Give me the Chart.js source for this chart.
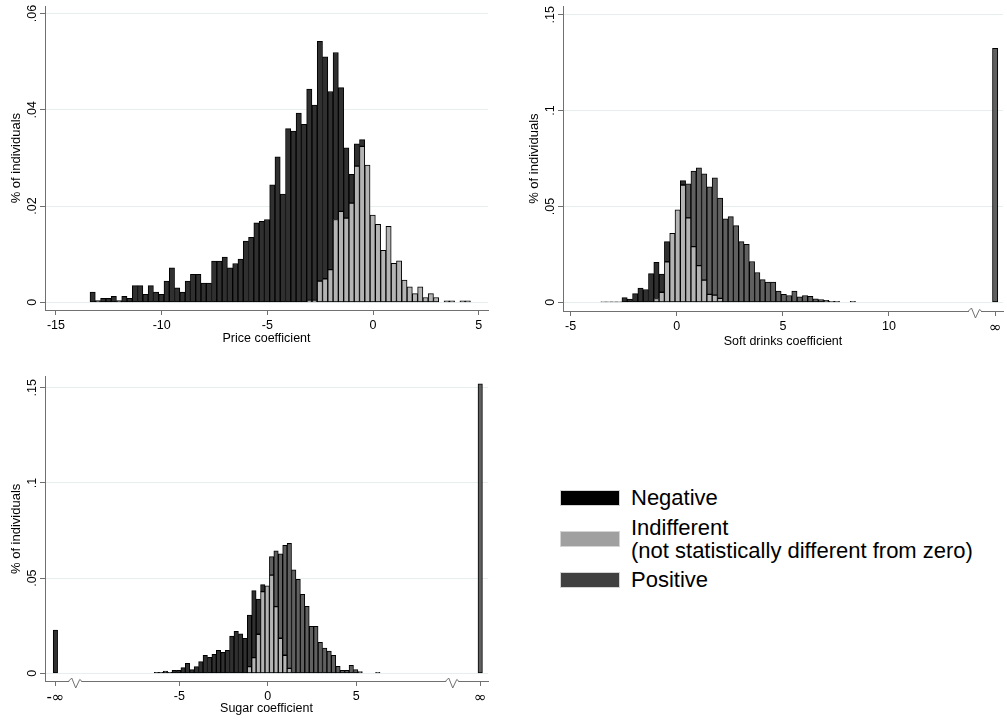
<!DOCTYPE html>
<html>
<head>
<meta charset="utf-8">
<script src="https://cdn.jsdelivr.net/npm/chart.js@4.4.0/dist/chart.umd.min.js"></script>
<style>
html,body{margin:0;padding:0;background:#fff;width:1007px;height:720px;overflow:hidden;font-family:"Liberation Sans",Arial,sans-serif;}
canvas{position:absolute;}
#c1{left:0;top:0;}
#c2{left:505px;top:0;}
#c3{left:0;top:370px;}
.lg-box{position:absolute;left:560px;width:60px;height:16px;box-sizing:border-box;border:1px solid #d4d4d4;}
.lg-txt{position:absolute;left:631px;font-size:22px;line-height:22px;color:#000;white-space:nowrap;}
</style>
</head>
<body>
<canvas id="c1" width="500" height="350"></canvas>
<canvas id="c2" width="502" height="350"></canvas>
<canvas id="c3" width="500" height="350"></canvas>

<div class="lg-box" style="top:490px;background:#000;"></div>
<div class="lg-txt" style="top:487px;">Negative</div>
<div class="lg-box" style="top:531px;background:#a0a0a0;"></div>
<div class="lg-txt" style="top:517px;">Indifferent</div>
<div class="lg-txt" style="top:540px;">(not statistically different from zero)</div>
<div class="lg-box" style="top:572px;background:#404040;"></div>
<div class="lg-txt" style="top:569px;">Positive</div>

<script>
// ---------- DATA ----------
const BIN_WIDTH = 0.25;

// Price coefficient histogram (bins start at -13.39)
const priceBinStart = -13.39;
const priceNegative = [
  0.00214,0.00034,0.00083,0.00083,0.00124,0.00034,0.00124,0.00083,0.00345,0.00345,
  0.00166,0.00345,0.00214,0.00166,0.00441,0.00717,0.00303,0.00214,0.00441,0.0058,
  0.0058,0.004,0.004,0.00855,0.00855,0.00938,0.00717,0.00807,0.00897,0.0127,
  0.0135,0.0165,0.0168,0.0172,0.0244,0.0302,0.0225,0.0361,0.0356,0.0393,
  0.037,0.0439,0.0406,0.0498,0.0461,0.037,0.0347,0.0257,0.0146,0.006,
  0.0046,0.0014,0,0,0,0,0,0,0,0,
  0,0,0,0,0,0,0,0,0,0,
  0,0
];
const priceIndifferent = [
  0,0,0,0,0,0,0,0,0,0,
  0,0,0,0,0,0,0,0,0,0,
  0,0,0,0,0,0,0,0,0,0,
  0,0,0,0,0,0,0,0,0,0,
  0,0.0004,0.0004,0.0044,0.0049,0.0068,0.0172,0.0189,0.0175,0.0206,
  0.0283,0.0324,0.0285,0.0181,0.0162,0.0108,0.0158,0.0081,0.0086,0.0046,
  0.0032,0.0018,0.0032,0.001,0.0018,0.001,0,0,0,0,
  0,0
];
const pricePositive = [
  0,0,0,0,0,0,0,0,0,0,
  0,0,0,0,0,0,0,0,0,0,
  0,0,0,0,0,0,0,0,0,0,
  0,0,0,0,0,0,0,0,0,0,
  0,0,0,0,0,0,0,0,0,0,
  0,0,0,0,0,0,0,0,0,0,
  0,0,0,0,0,0,0,0.0003,0.0003,0,
  0.0003,0.0003
];
const priceXTicks = [-15,-10,-5,0,5];
const priceXLabels = ['-15','-10','-5','0','5'];
const priceYTicks = [0,0.02,0.04,0.06];
const priceYLabels = ['0','.02','.04','.06'];

// Soft drinks coefficient histogram (bins start at -3.58), infinity bar at x=15
const softBinStart = -3.58;
const softNegative = [
  0.0002,0.0002,0.0002,0.0002,0.0025,0.0017,0.0046,0.0074,0.0067,0.015,
  0.0189,0.0094,0.0105,0,0,0.0023,0,0,0,0,
  0,0,0,0,0,0,0,0,0,0,
  0,0,0,0,0,0,0,0,0,0,
  0,0,0,0,0,0,0,0
];
const softIndifferent = [
  0,0,0,0,0,0,0,0,0,0,
  0.002,0.0053,0.0212,0.036,0.0483,0.0612,0.0441,0.0291,0.0192,0.0116,
  0.0042,0.0038,0.0021,0,0,0,0,0,0,0,
  0,0,0,0,0,0,0,0,0,0,
  0,0,0,0,0,0,0,0
];
const softPositive = [
  0,0,0,0,0,0,0,0,0,0,
  0,0,0,0,0,0,0.0177,0.0394,0.0509,0.0554,
  0.056,0.0611,0.0523,0.0436,0.0447,0.04,0.0317,0.0303,0.0213,0.0156,
  0.0119,0.0106,0.0106,0.0059,0.0042,0.0036,0.0059,0.0029,0.0036,0.0031,
  0.0019,0.0014,0.001,0.0005,0.0005,0,0,0.0005
];
const softInfinityX = 15;
const softInfinityPositive = 0.1325;
const softBreakX = 14.05;
const softXTicks = [-5,0,5,10,15];
const softXLabels = ['-5','0','5','10','\u221E'];
const softYTicks = [0,0.05,0.1,0.15];
const softYLabels = ['0','.05','.1','.15'];

// Sugar coefficient histogram (bins start at -6.41), -inf bar at x=-12, inf bar at x=12
const sugarBinStart = -6.41;
const sugarNegative = [
  0.0005,0.0005,0.0012,0.0005,0.0016,0.0016,0.003,0.0053,0.0019,0.0035,
  0.0061,0.0095,0.0084,0.01,0.0121,0.011,0.0121,0.0196,0.0221,0.0207,
  0.0184,0.0271,0.0352,0.0185,0.0037,0,0,0,0,0,
  0,0,0,0,0,0,0,0,0,0,
  0,0,0,0,0,0,0,0,0,0,
  0
];
const sugarIndifferent = [
  0,0,0,0,0,0,0,0,0,0,
  0,0,0,0,0,0,0,0,0,0,
  0,0.0035,0.0082,0.0205,0.0429,0.046,0.0516,0.035,0.0184,0.0095,
  0.0026,0,0,0,0,0,0,0,0,0,
  0,0,0,0,0,0,0,0,0,0,
  0
];
const sugarPositive = [
  0,0,0,0,0,0,0,0,0,0,
  0,0,0,0,0,0,0,0,0,0,
  0,0,0,0,0,0,0.0097,0.0294,0.0443,0.0577,
  0.0657,0.0543,0.0494,0.0415,0.0352,0.0247,0.0247,0.0163,0.0133,0.0117,
  0.0095,0.0037,0.0016,0.0016,0.0042,0.0019,0.0009,0,0,0,
  0.0005
];
const sugarMinusInfX = -12;
const sugarMinusInfNegative = 0.0227;
const sugarInfX = 12;
const sugarInfPositive = 0.152;
const sugarBreaks = [-10.88, 10.42];
const sugarXTicks = [-12,-5,0,5,12];
const sugarXLabels = ['-\u221E','-5','0','5','\u221E'];
const sugarYTicks = [0,0.05,0.1,0.15];
const sugarYLabels = ['0','.05','.1','.15'];

// ---------- STYLE ----------
const COLOR_NEG = '#303030';
const COLOR_IND = '#b4b4b4';
const COLOR_POS = '#606060';
const AXIS = '#707070';
const GRID = '#e6eeee';
const FONT = '"Liberation Sans", Arial, sans-serif';

Chart.defaults.font.family = FONT;
Chart.defaults.color = '#000';

function binCenters(start, n) {
  const xs = [];
  for (let i = 0; i < n; i++) xs.push(Math.round((start + (i + 0.5) * BIN_WIDTH) * 10000) / 10000);
  return xs;
}
function toPoints(xs, ys, extra) {
  const pts = [];
  ys.forEach((v, i) => { if (v > 0) pts.push({x: xs[i], y: v}); });
  (extra || []).forEach(p => pts.push(p));
  return pts;
}

const breakPlugin = {
  id: 'axisBreaks',
  afterDraw(chart, args, opts) {
    const vals = (opts && opts.values) || [];
    const xs = chart.scales.x;
    const ctx = chart.ctx;
    const y0 = chart.chartArea.bottom;
    ctx.save();
    vals.forEach(b => {
      const px = xs.getPixelForValue(b);
      ctx.fillStyle = '#fff';
      ctx.fillRect(px - 6, y0 - 2, 12, 4);
      ctx.strokeStyle = AXIS;
      ctx.lineWidth = 1;
      ctx.beginPath();
      ctx.moveTo(px - 6.5, y0);
      ctx.lineTo(px - 3.5, y0 - 3);
      ctx.lineTo(px + 0.5, y0 + 7);
      ctx.lineTo(px + 4.5, y0 - 1.5);
      ctx.lineTo(px + 6.5, y0);
      ctx.stroke();
    });
    ctx.restore();
  }
};

function makeChart(id, cfg) {
  const common = {borderColor: '#000', borderWidth: 1, borderSkipped: false,
                  barPercentage: 1, categoryPercentage: 1, stack: 's'};
  const datasets = [
    Object.assign({label: 'Indifferent', data: toPoints(cfg.x, cfg.ind, cfg.indExtra), backgroundColor: COLOR_IND}, common),
    Object.assign({label: 'Negative', data: toPoints(cfg.x, cfg.neg, cfg.negExtra), backgroundColor: COLOR_NEG}, common),
    Object.assign({label: 'Positive', data: toPoints(cfg.x, cfg.pos, cfg.posExtra), backgroundColor: COLOR_POS}, common)
  ];
  return new Chart(document.getElementById(id), {
    type: 'bar',
    data: {datasets},
    options: {
      responsive: false,
      animation: false,
      events: [],
      layout: {padding: cfg.padding},
      plugins: {legend: {display: false}, tooltip: {enabled: false}, axisBreaks: {values: cfg.breaks || []}},
      scales: {
        x: {
          type: 'linear', min: cfg.xMin, max: cfg.xMax, offset: false, stacked: true,
          afterBuildTicks: s => { s.ticks = cfg.xTicks.map(v => ({value: v})); },
          afterFit: s => { s.height = cfg.xHeight; },
          ticks: {autoSkip: false, maxRotation: 0, minRotation: 0, padding: 3, color: '#000',
                  font: (c) => (String(cfg.xLabels[c.index] || '').indexOf('\u221E') >= 0)
                      ? {family: '"DejaVu Sans", sans-serif', size: 15}
                      : {family: FONT, size: 12.5},
                  callback: (v, i) => cfg.xLabels[i]},
          grid: {offset: false, drawOnChartArea: false, drawTicks: true, tickLength: 5, tickColor: AXIS, tickWidth: 1},
          border: {display: true, color: AXIS, width: 1},
          title: {display: true, text: cfg.xTitle, color: '#000', font: {size: 12.5},
                  padding: {top: 0, bottom: cfg.xTitlePad}}
        },
        y: {
          min: cfg.yMin, max: cfg.yMax, stacked: true,
          afterBuildTicks: s => { s.ticks = cfg.yTicks.map(v => ({value: v})); },
          afterFit: s => { s.width = 45; },
          ticks: {autoSkip: false, minRotation: 90, maxRotation: 90, crossAlign: 'center', padding: -1.2,
                  color: '#000', font: {size: 12.5}, callback: (v, i) => cfg.yLabels[i]},
          grid: {color: GRID, lineWidth: 1, drawTicks: true, tickLength: 5, tickColor: AXIS, tickWidth: 1},
          border: {display: true, color: AXIS, width: 1},
          title: {display: true, text: '% of individuals', color: '#000', font: {size: 13},
                  padding: {top: 9, bottom: 4}}
        }
      }
    },
    plugins: [breakPlugin]
  });
}

// Price
makeChart('c1', {
  x: binCenters(priceBinStart, priceNegative.length),
  neg: priceNegative, ind: priceIndifferent, pos: pricePositive,
  xMin: -15.52, xMax: 5.44, yMin: -0.0016, yMax: 0.0615,
  xTicks: priceXTicks, xLabels: priceXLabels, yTicks: priceYTicks, yLabels: priceYLabels,
  xTitle: 'Price coefficient', xTitlePad: 4, xHeight: 40,
  padding: {top: 5, right: 12, left: 0, bottom: 0}
});

// Soft drinks
makeChart('c2', {
  x: binCenters(softBinStart, softNegative.length),
  neg: softNegative, ind: softIndifferent, pos: softPositive,
  posExtra: [{x: softInfinityX, y: softInfinityPositive}],
  xMin: -5.356, xMax: 15.37, yMin: -0.0045, yMax: 0.1544,
  xTicks: softXTicks, xLabels: softXLabels, yTicks: softYTicks, yLabels: softYLabels,
  breaks: [softBreakX],
  xTitle: 'Soft drinks coefficient', xTitlePad: 1, xHeight: 39,
  padding: {top: 5, right: 4, left: 13, bottom: 0}
});

// Sugar
makeChart('c3', {
  x: binCenters(sugarBinStart, sugarNegative.length),
  neg: sugarNegative, ind: sugarIndifferent, pos: sugarPositive,
  negExtra: [{x: sugarMinusInfX, y: sugarMinusInfNegative}],
  posExtra: [{x: sugarInfX, y: sugarInfPositive}],
  xMin: -12.588, xMax: 12.44, yMin: -0.00404, yMax: 0.1558,
  xTicks: sugarXTicks, xLabels: sugarXLabels, yTicks: sugarYTicks, yLabels: sugarYLabels,
  breaks: sugarBreaks,
  xTitle: 'Sugar coefficient', xTitlePad: 3.5, xHeight: 39,
  padding: {top: 6.7, right: 12, left: 0, bottom: 0}
});
</script>
</body>
</html>
